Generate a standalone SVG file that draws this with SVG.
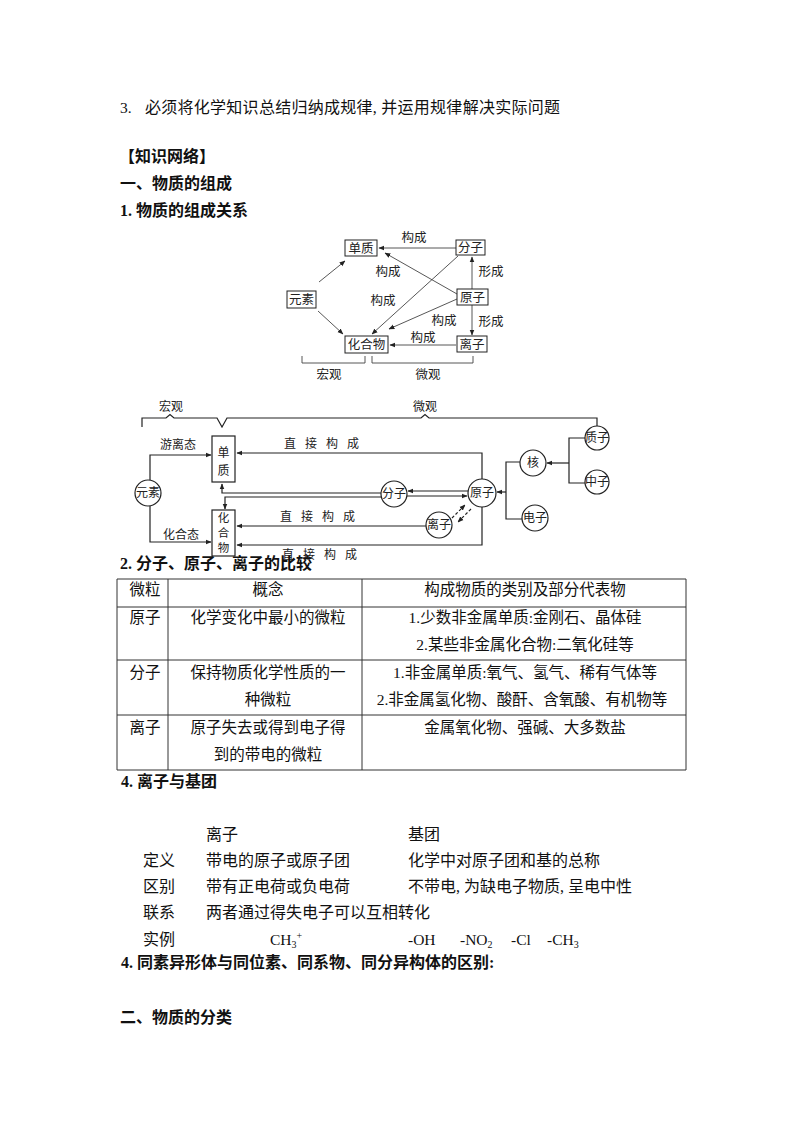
<svg xmlns="http://www.w3.org/2000/svg" width="800" height="1132" viewBox="0 0 800 1132">
<style>
  text { font-family: "Liberation Serif", "Noto Sans CJK SC", serif; fill: #111; }
  .b { font-weight: bold; }
  .t { font-size: 15.5px; }
  .s4 { font-size: 16px; }
  .h { font-size: 16px; font-weight: bold; }
  .d1 { font-size: 12.5px; font-family: "Noto Sans CJK SC", sans-serif; fill: #222; }
  .d2 { font-size: 12px; font-family: "Noto Sans CJK SC", sans-serif; fill: #222; }
  .v { font-size: 11.5px; font-family: "Noto Sans CJK SC", sans-serif; fill: #222; }
  .c { text-anchor: middle; }
  .l1 { stroke: #444; stroke-width: 0.9; fill: none; }
  .l2 { stroke: #222; stroke-width: 1.2; fill: none; }
  .box1 { fill: #fff; stroke: #222; stroke-width: 1; }
  .box2 { fill: #fff; stroke: #222; stroke-width: 1.2; }
  .grid { stroke: #333; stroke-width: 1; fill: none; }
  .dash { stroke-dasharray: 3 2; }
</style>
<defs>
  <marker id="ah" viewBox="0 0 10 10" refX="9" refY="5" markerWidth="6" markerHeight="6" orient="auto" markerUnits="userSpaceOnUse">
    <path d="M0,1 L10,5 L0,9 z" fill="#222"/>
  </marker>
</defs>
<rect width="800" height="1132" fill="#fff"/>

<!-- Top text -->
<text class="t" x="120" y="113">3.</text>
<text x="145" y="113" font-size="16" textLength="415" lengthAdjust="spacing">必须将化学知识总结归纳成规律, 并运用规律解决实际问题</text>
<text class="h" x="119" y="162">【知识网络】</text>
<text class="h" x="120" y="189">一、物质的组成</text>
<text class="h" x="120" y="216">1. 物质的组成关系</text>

<!-- Diagram 1 -->
<g id="diagram1">
  <g id="d1-connectors">
    <line class="l1" x1="456" y1="248" x2="379" y2="248" marker-end="url(#ah)"/>
    <line class="l1" x1="472" y1="289" x2="472" y2="257" marker-end="url(#ah)"/>
    <line class="l1" x1="472" y1="305" x2="472" y2="335" marker-end="url(#ah)"/>
    <line class="l1" x1="457" y1="294" x2="385" y2="253" marker-end="url(#ah)"/>
    <line class="l1" x1="458" y1="256" x2="372" y2="334" marker-end="url(#ah)"/>
    <line class="l1" x1="457" y1="299" x2="389" y2="329" marker-end="url(#ah)"/>
    <line class="l1" x1="456" y1="345" x2="390" y2="345" marker-end="url(#ah)"/>
    <line class="l1" x1="319" y1="282" x2="345" y2="261" marker-end="url(#ah)"/>
    <line class="l1" x1="318" y1="311" x2="343" y2="334" marker-end="url(#ah)"/>
    <path class="l1" d="M302,356 V363 H365 V356"/>
    <path class="l1" d="M372,356 V363 H473 V356"/>
    <text class="d1 c" x="414" y="242">构成</text>
    <text class="d1 c" x="388" y="276">构成</text>
    <text class="d1 c" x="383" y="305">构成</text>
    <text class="d1 c" x="444" y="325">构成</text>
    <text class="d1 c" x="423" y="342">构成</text>
    <text class="d1 c" x="491" y="276">形成</text>
    <text class="d1 c" x="491" y="326">形成</text>
    <text class="d1 c" x="329" y="379">宏观</text>
    <text class="d1 c" x="428" y="379">微观</text>
  </g>
  <g id="d1-danzhi"><rect class="box1" x="345" y="240" width="32" height="16"/><text class="d1 c" x="361" y="253">单质</text></g>
  <g id="d1-fenzi"><rect class="box1" x="456" y="240" width="29" height="15"/><text class="d1 c" x="470.5" y="252">分子</text></g>
  <g id="d1-yuanzi"><rect class="box1" x="457" y="289" width="31" height="16"/><text class="d1 c" x="472.5" y="302">原子</text></g>
  <g id="d1-yuansu"><rect class="box1" x="287" y="291" width="29" height="17"/><text class="d1 c" x="301.5" y="304">元素</text></g>
  <g id="d1-huahewu"><rect class="box1" x="345" y="336" width="43" height="17"/><text class="d1 c" x="366.5" y="349">化合物</text></g>
  <g id="d1-lizi"><rect class="box1" x="457" y="336" width="30" height="16"/><text class="d1 c" x="472" y="349">离子</text></g>
</g>

<!-- Diagram 2 -->
<g id="diagram2">
  <g id="d2-connectors">
    <path class="l2" d="M142,427 V418 H166 L170,414.5 L174,418 H217 L222,427 L227,418 H421 L425,414.5 L429,418 H597 V426"/>
    <text class="d2 c" x="171" y="411">宏观</text>
    <text class="d2 c" x="425" y="411">微观</text>
    <path class="l2" d="M150,480 V455 H211" marker-end="url(#ah)"/>
    <path class="l2" d="M150,506 V542 H211" marker-end="url(#ah)"/>
    <text class="d2 c" x="178" y="449">游离态</text>
    <text class="d2 c" x="181" y="539">化合态</text>
    <path class="l2" d="M482,479 V453 H237" marker-end="url(#ah)"/>
    <path class="l2" d="M426,526 H237" marker-end="url(#ah)"/>
    <path class="l2" d="M482,507 V545 H237" marker-end="url(#ah)"/>
    <text class="d2 c" x="326" y="448" letter-spacing="9">直接构成</text>
    <text class="d2 c" x="322" y="521" letter-spacing="9">直接构成</text>
    <text class="d2 c" x="324" y="559" letter-spacing="9">直接构成</text>
    <path class="l2" d="M381,493 H222 V484" marker-end="url(#ah)"/>
    <path class="l2" d="M381,497 H225 V509" marker-end="url(#ah)"/>
    <path class="l2" d="M468,491 H408" marker-end="url(#ah)"/>
    <path class="l2" d="M407,496 H467" marker-end="url(#ah)"/>
    <path class="l2 dash" d="M452,518 L465,505" marker-end="url(#ah)"/>
    <path class="l2 dash" d="M471,509 L458,522" marker-end="url(#ah)"/>
    <path class="l2" d="M506,492 H497" marker-end="url(#ah)"/>
    <path class="l2" d="M520,462 H506 V519 H522"/>
    <path class="l2" d="M585,438 H569 V483 H585"/>
    <path class="l2" d="M569,463 H547" marker-end="url(#ah)"/>
  </g>
  <g id="d2-danzhi"><rect class="box2" x="212" y="436" width="23" height="46"/><text class="d2 c" x="223.5" y="457">单</text><text class="d2 c" x="223.5" y="475">质</text></g>
  <g id="d2-huahewu"><rect class="box2" x="212" y="510" width="23" height="46"/><text class="v c" x="223.5" y="522">化</text><text class="v c" x="223.5" y="537">合</text><text class="v c" x="223.5" y="552">物</text></g>
  <g id="d2-yuansu"><circle class="box2" cx="148" cy="493" r="13"/><text class="d2 c" x="148" y="497">元素</text></g>
  <g id="d2-fenzi"><circle class="box2" cx="394" cy="494" r="13"/><text class="d2 c" x="394" y="498">分子</text></g>
  <g id="d2-yuanzi"><circle class="box2" cx="482" cy="493" r="14"/><text class="d2 c" x="482" y="497">原子</text></g>
  <g id="d2-lizi"><circle class="box2" cx="439" cy="525" r="13"/><text class="d2 c" x="439" y="529">离子</text></g>
  <g id="d2-he"><circle class="box2" cx="533" cy="463" r="13"/><text class="d2 c" x="533" y="467">核</text></g>
  <g id="d2-dianzi"><circle class="box2" cx="535" cy="518" r="13"/><text class="d2 c" x="535" y="522">电子</text></g>
  <g id="d2-zhizi"><circle class="box2" cx="597" cy="438" r="12"/><text class="d2 c" x="597" y="442">质子</text></g>
  <g id="d2-zhongzi"><circle class="box2" cx="597" cy="482" r="12"/><text class="d2 c" x="597" y="486">中子</text></g>
</g>

<text class="h" x="120" y="569">2. 分子、原子、离子的比较</text>

<!-- Table -->
<g id="table">
  <path class="grid" d="M117,579 H686 V770 H117 Z M117,607 H686 M117,660 H686 M117,715 H686 M168,579 V770 M362,579 V770"/>
  <text class="t c" x="145" y="595">微粒</text>
  <text class="t c" x="268" y="595">概念</text>
  <text class="t c" x="525" y="595">构成物质的类别及部分代表物</text>
  <text class="t c" x="145" y="623">原子</text>
  <text class="t c" x="268" y="623">化学变化中最小的微粒</text>
  <text class="t c" x="525" y="623">1.少数非金属单质:金刚石、晶体硅</text>
  <text class="t c" x="525" y="650">2.某些非金属化合物:二氧化硅等</text>
  <text class="t c" x="145" y="678">分子</text>
  <text class="t c" x="268" y="678">保持物质化学性质的一</text>
  <text class="t c" x="268" y="705">种微粒</text>
  <text class="t c" x="525" y="678">1.非金属单质:氧气、氢气、稀有气体等</text>
  <text class="t c" x="522" y="705">2.非金属氢化物、酸酐、含氧酸、有机物等</text>
  <text class="t c" x="145" y="733">离子</text>
  <text class="t c" x="268" y="733">原子失去或得到电子得</text>
  <text class="t c" x="268" y="760">到的带电的微粒</text>
  <text class="t c" x="525" y="733">金属氧化物、强碱、大多数盐</text>
</g>

<!-- Section 4 -->
<text class="h" x="121" y="787">4.  离子与基团</text>
<text class="s4" x="206" y="840">离子</text>
<text class="s4" x="408" y="840">基团</text>
<text class="s4" x="143" y="866">定义</text>
<text class="s4" x="206" y="866">带电的原子或原子团</text>
<text class="s4" x="408" y="866">化学中对原子团和基的总称</text>
<text class="s4" x="143" y="892">区别</text>
<text class="s4" x="206" y="892">带有正电荷或负电荷</text>
<text class="s4" x="408" y="892">不带电, 为缺电子物质, 呈电中性</text>
<text class="s4" x="143" y="918">联系</text>
<text class="s4" x="206" y="918">两者通过得失电子可以互相转化</text>
<text class="s4" x="143" y="945">实例</text>
<text class="t" x="270" y="945">CH<tspan font-size="10" dy="3">3</tspan><tspan font-size="10" dy="-9">+</tspan></text>
<text class="t" x="408" y="945">-OH</text>
<text class="t" x="460" y="945">-NO<tspan font-size="10" dy="3">2</tspan></text>
<text class="t" x="511" y="945">-Cl</text>
<text class="t" x="547" y="945">-CH<tspan font-size="10" dy="3">3</tspan></text>
<text class="h" x="121" y="968">4.  同素异形体与同位素、同系物、同分异构体的区别:</text>
<text class="h" x="120" y="1023">二、物质的分类</text>
</svg>
